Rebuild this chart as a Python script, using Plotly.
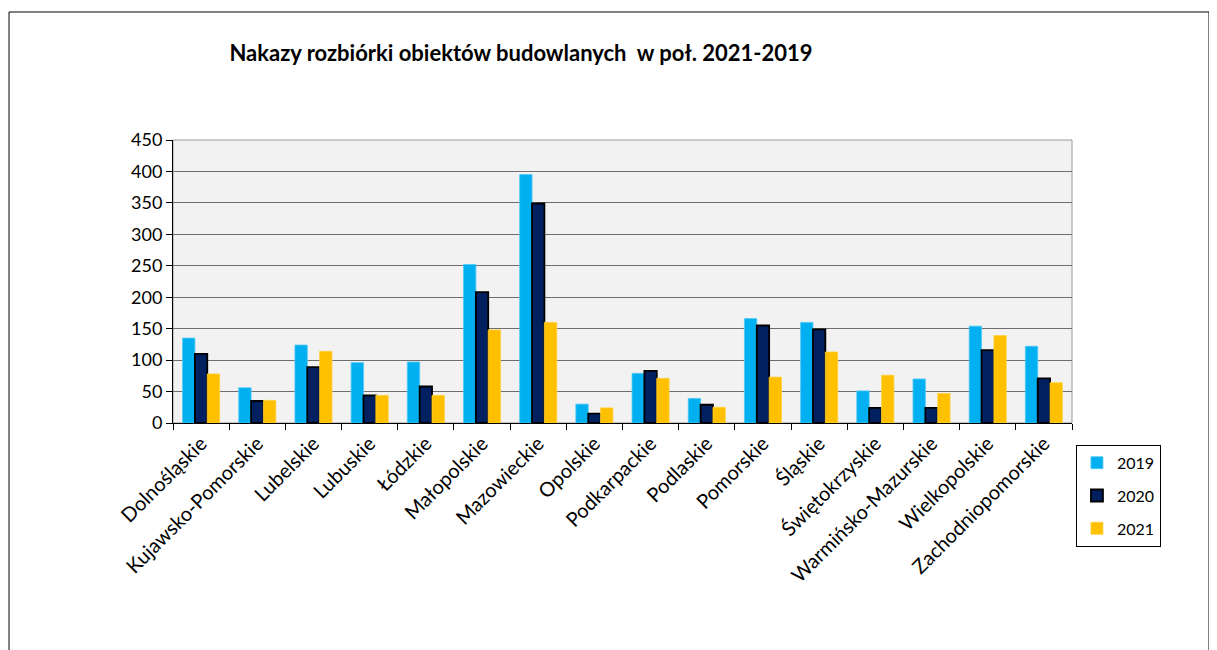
import plotly.graph_objects as go

categories = ["Dolnośląskie", "Kujawsko-Pomorskie", "Lubelskie", "Lubuskie", "Łódzkie",
              "Małopolskie", "Mazowieckie", "Opolskie", "Podkarpackie", "Podlaskie",
              "Pomorskie", "Śląskie", "Świętokrzyskie", "Warmińsko-Mazurskie",
              "Wielkopolskie", "Zachodniopomorskie"]
v2019 = [135, 56, 124, 96, 97, 252, 395, 30, 79, 39, 166, 160, 51, 70, 154, 122]
v2020 = [110, 35, 89, 44, 58, 208, 349, 15, 83, 29, 155, 149, 24, 24, 116, 71]
v2021 = [78, 36, 114, 44, 44, 148, 160, 24, 71, 25, 73, 113, 76, 47, 139, 64]
y_ticks = [0, 50, 100, 150, 200, 250, 300, 350, 400, 450]

FONT = "Lato"
N = len(categories)

fig = go.Figure()
fig.add_trace(go.Bar(name="2019", x=categories, y=v2019, legendgroup="a",
                     marker=dict(color="#00B0F0", line=dict(color="#4FC8F5", width=0.8))))
fig.add_trace(go.Bar(name="2020", x=categories, y=v2020, legendgroup="b",
                     marker=dict(color="#002060", line=dict(color="#000000", width=1.8))))
fig.add_trace(go.Bar(name="2021", x=categories, y=v2021, legendgroup="c",
                     marker=dict(color="#FFC000", line=dict(color="#FFD040", width=0.8))))
# invisible helper trace carrying the category-boundary tick axis
fig.add_trace(go.Scatter(x=[-0.5, N - 0.5], y=[0, 0], xaxis="x2",
                         mode="lines", line=dict(width=0), showlegend=False,
                         hoverinfo="skip"))

fig.update_layout(
    width=1209, height=642,
    paper_bgcolor="white", plot_bgcolor="#F2F2F2",
    margin=dict(l=165, r=145, t=132, b=227, autoexpand=False),
    barmode="group", bargap=0.34, bargroupgap=0.0,
    font=dict(family=FONT, size=17, color="#000000"),
    title=dict(text="<b>Nakazy rozbiórki obiektów budowlanych  w poł. 2021-2019</b>",
               x=0.4243, xref="container", xanchor="center",
               y=0.930, yref="container", yanchor="middle",
               font=dict(family=FONT, size=22, color="#000000")),
    xaxis=dict(type="category", tickangle=-45, ticks="", showgrid=False,
               showline=True, linecolor="#000000", linewidth=1,
               tickfont=dict(family=FONT, size=20),
               range=[-0.5, N - 0.5]),
    xaxis2=dict(overlaying="x", range=[-0.5, N - 0.5],
                tickvals=[i - 0.5 for i in range(N + 1)],
                ticks="outside", ticklen=6, tickcolor="#000000",
                showticklabels=False, showgrid=False, showline=False,
                zeroline=False, side="bottom", anchor="y"),
    yaxis=dict(range=[0, 450], tickvals=y_ticks, ticks="outside", ticklen=6,
               tickcolor="#000000", showgrid=True, gridcolor="#6E6E6E", gridwidth=1,
               showline=True, linecolor="#000000", linewidth=1,
               zeroline=False, tickfont=dict(family=FONT, size=18)),
    legend=dict(x=1.0044, y=-0.077, xanchor="left", yanchor="top",
                bordercolor="#000000", borderwidth=1, bgcolor="white",
                font=dict(family=FONT, size=16), traceorder="grouped",
                tracegroupgap=9, itemwidth=30),
    showlegend=True,
)

# plot-area frame (grey) and outer chart frame
fig.add_shape(type="rect", xref="paper", yref="paper", x0=0, x1=1, y0=0, y1=1,
              line=dict(color="#9A9A9A", width=1), layer="below")
fig.add_shape(type="rect", xref="paper", yref="paper",
              x0=-0.1824, x1=1.1524, y0=-0.95, y1=1.4523,
              line=dict(color="#000000", width=1))

fig.write_html("out.html")
